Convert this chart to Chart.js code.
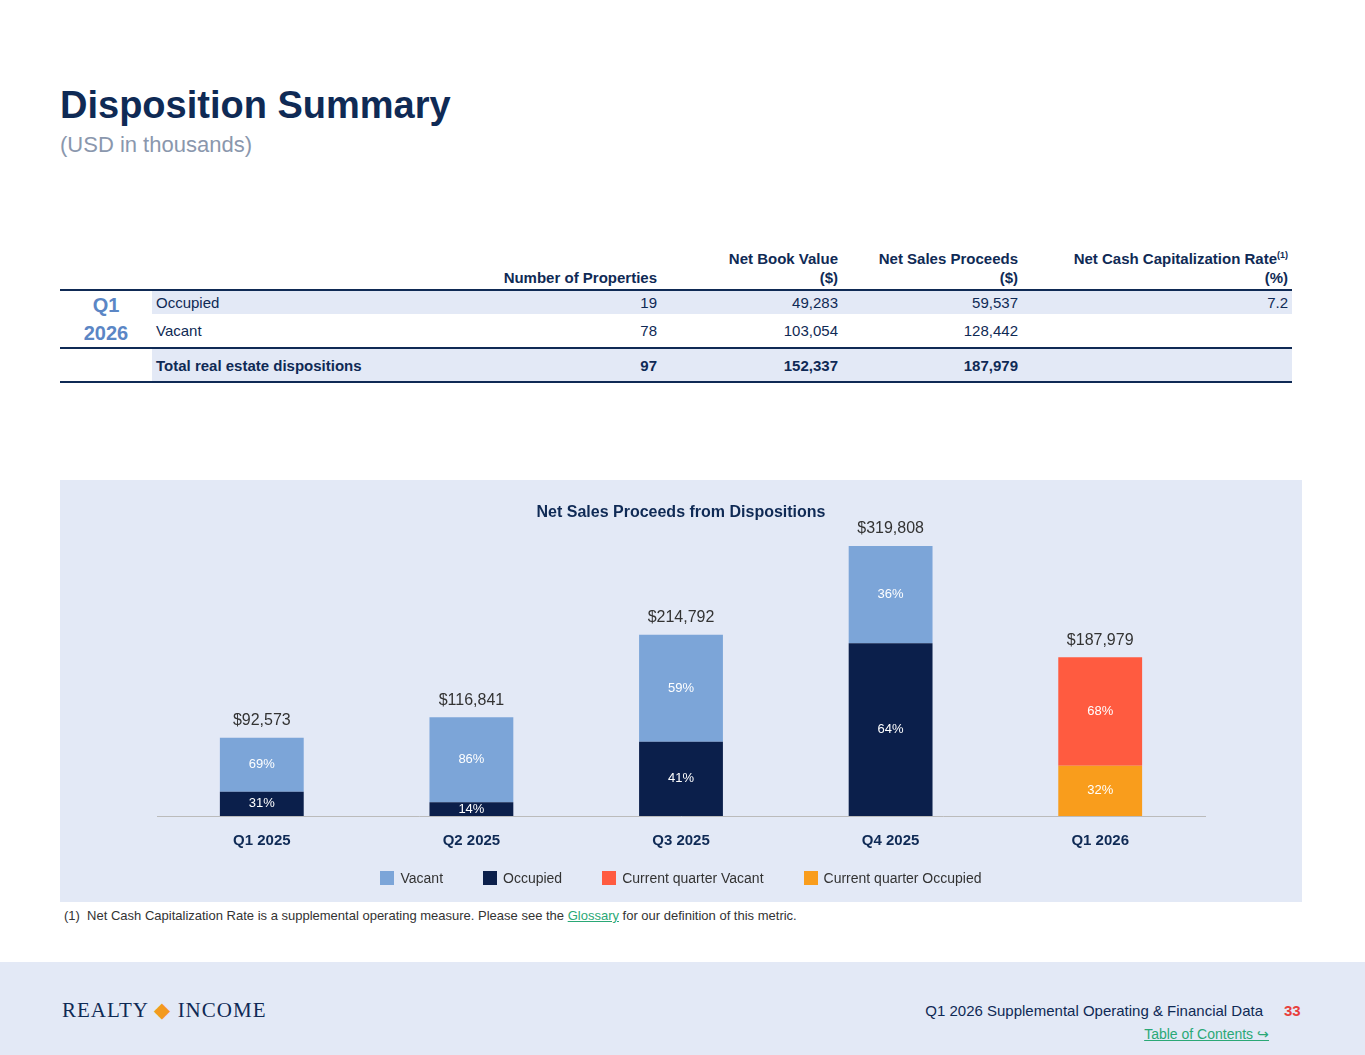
<!DOCTYPE html>
<html><head><meta charset="utf-8">
<script src="https://cdn.jsdelivr.net/npm/chart.js@4"></script>
<style>
body{margin:0;width:1365px;height:1055px;position:relative;font-family:"Liberation Sans",sans-serif;background:#fff;overflow:hidden}
h1{position:absolute;left:60px;top:84px;margin:0;font-size:38px;color:#0f2a55;font-weight:bold}
.sub{position:absolute;left:60px;top:132px;font-size:22px;color:#8a97ad}
table{position:absolute;left:60px;top:246px;width:1232px;border-collapse:collapse;font-size:15px;color:#0f2a55;table-layout:fixed}
th{font-weight:bold;text-align:right;vertical-align:bottom;padding:0 4px 2px;line-height:19px}
td{text-align:right;padding:0 4px;height:26px}
.l{text-align:left}
.hd th{border-bottom:2px solid #0f2a55}
.r1 td{background:#e3e9f6;height:23px}
.q{text-align:center;color:#5b86c5;font-weight:bold;font-size:20px;background:#fff!important;line-height:28px}
.tot td{background:#e3e9f6;font-weight:bold;border-top:2px solid #0f2a55;border-bottom:2px solid #0f2a55;height:32px}
.vr td{height:32px}
#panel{position:absolute;left:60px;top:480px;width:1242px;height:422px;background:#e3e9f6}
#lg{position:absolute;left:0;width:1242px;top:390px;text-align:center;font-size:14px;color:#333}
#lg span{display:inline-block;margin:0 20px}
#lg i{display:inline-block;width:14px;height:14px;vertical-align:-2px;margin-right:6px}
.fn{position:absolute;left:64px;top:908px;font-size:13px;color:#333}
.fn a{color:#2aa876;text-decoration:underline}
#foot{position:absolute;left:0;top:962px;width:1365px;height:93px;background:#e3e9f6}
.logo{position:absolute;left:62px;top:998px;font-family:"Liberation Serif",serif;font-size:21px;color:#0f2a55;letter-spacing:1px}
.ft{position:absolute;right:102px;top:1002px;font-size:15px;color:#0f2a55}
.pg{position:absolute;left:1284px;top:1002px;font-size:15px;color:#e8403c;font-weight:bold}
.toc{position:absolute;right:96px;top:1026px;font-size:14px;color:#2aa876;text-decoration:underline}
</style></head><body>
<h1>Disposition Summary</h1>
<div class="sub">(USD in thousands)</div>
<table>
<colgroup><col style="width:92px"><col style="width:318px"><col style="width:191px"><col style="width:181px"><col style="width:180px"><col style="width:270px"></colgroup>
<tr class="hd"><th></th><th></th><th>Number of Properties</th><th>Net Book Value<br>($)</th><th>Net Sales Proceeds<br>($)</th><th>Net Cash Capitalization Rate<sup style="font-size:9px">(1)</sup><br>(%)</th></tr>
<tr class="r1"><td class="q" rowspan="2">Q1<br>2026</td><td class="l">Occupied</td><td>19</td><td>49,283</td><td>59,537</td><td>7.2</td></tr>
<tr class="vr"><td class="l">Vacant</td><td>78</td><td>103,054</td><td>128,442</td><td></td></tr>
<tr class="tot"><td style="background:#fff"></td><td class="l">Total real estate dispositions</td><td>97</td><td>152,337</td><td>187,979</td><td></td></tr>
</table>
<div id="panel"><canvas id="c" width="1242" height="422"></canvas><div id="lg"></div></div>
<div class="fn">(1)&nbsp; Net Cash Capitalization Rate is a supplemental operating measure. Please see the <a>Glossary</a> for our definition of this metric.</div>
<div id="foot"></div>
<div class="logo">REALTY <span style="color:#f39a1f">&#9670;</span> INCOME</div>
<div class="ft">Q1 2026 Supplemental Operating &amp; Financial Data</div>
<div class="pg">33</div>
<div class="toc">Table of Contents &#8618;</div>
<script>
const categories=['Q1 2025','Q2 2025','Q3 2025','Q4 2025','Q1 2026'];
const occupied=[28698,16358,88065,204677,null];
const vacant=[63875,100483,126727,115131,null];
const cqOccupied=[null,null,null,null,59537];
const cqVacant=[null,null,null,null,128442];
const totals=[92573,116841,214792,319808,187979];
const occPct=['31%','14%','41%','64%','32%'];
const vacPct=['69%','86%','59%','36%','68%'];
const ds=(label,data,color,pct)=>({label,data,backgroundColor:color,pct,categoryPercentage:1,barPercentage:0.4});
const labelsPlugin={id:'lbl',
 afterDatasetsDraw(ch){
 const ctx=ch.ctx;ctx.save();ctx.textAlign='center';ctx.textBaseline='middle';ctx.font='13px "Liberation Sans"';
 ch.data.datasets.forEach((d,i)=>{ch.getDatasetMeta(i).data.forEach((b,j)=>{if(d.data[j]==null)return;
  ctx.fillStyle='#fff';ctx.fillText(d.pct[j],b.x,(b.y+b.base)/2);});});
 ctx.font='16px "Liberation Sans"';ctx.fillStyle='#333';
 totals.forEach((t,j)=>{const top=ch.scales.y.getPixelForValue(t);ctx.fillText('$'+t.toLocaleString('en-US'),ch.scales.x.getPixelForValue(j),top-17);});
 ctx.restore();}};
const chart=new Chart(document.getElementById('c'),{type:'bar',
 data:{labels:categories,datasets:[
  ds('Occupied',occupied,'#0b1f4b',occPct),
  ds('Vacant',vacant,'#7ca5d8',vacPct),
  ds('Current quarter Occupied',cqOccupied,'#f99d1c',occPct),
  ds('Current quarter Vacant',cqVacant,'#ff5b40',vacPct)]},
 options:{responsive:false,animation:false,
  layout:{padding:{left:97,right:97,top:0,bottom:44}},
  scales:{x:{stacked:true,grid:{display:false},border:{color:'#bbb'},ticks:{color:'#0f2a55',font:{size:15,weight:'bold',family:'Liberation Sans'},padding:8}},
   y:{stacked:true,display:false,min:0,max:329000}},
  plugins:{title:{display:true,text:'Net Sales Proceeds from Dispositions',color:'#0f2a55',font:{size:16,weight:'bold',family:'Liberation Sans'},padding:{top:23,bottom:16}},
   tooltip:{enabled:false},legend:{display:false}}},
 plugins:[labelsPlugin]});
document.getElementById('lg').innerHTML=[1,0,3,2].map(i=>{const d=chart.data.datasets[i];
 return '<span><i style="background:'+d.backgroundColor+'"></i>'+d.label+'</span>';}).join('');
</script>
</body></html>
